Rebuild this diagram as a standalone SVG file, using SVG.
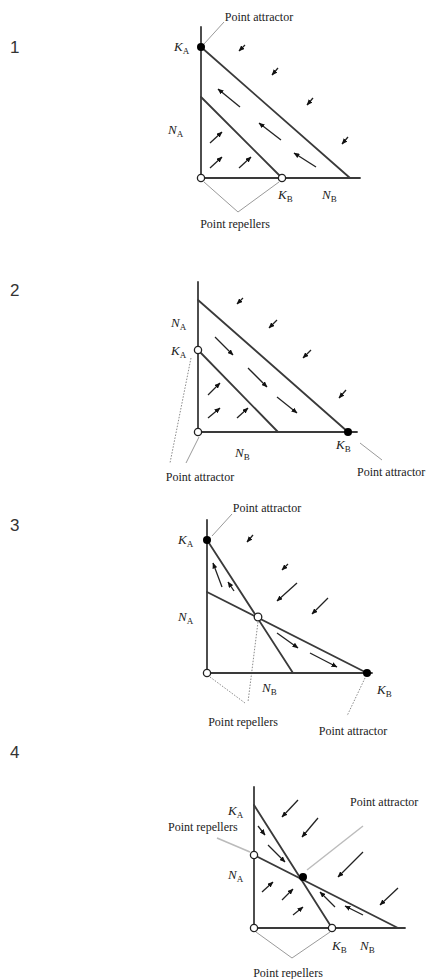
<svg xmlns="http://www.w3.org/2000/svg" width="430" height="979" viewBox="0 0 430 979">
<defs>
<marker id="ah" markerUnits="userSpaceOnUse" markerWidth="6" markerHeight="5" refX="5.5" refY="2.5" orient="auto">
<path d="M0,0 L6,2.5 L0,5 z" fill="#111"/>
</marker>
<style>
.ax{stroke:#3a3a3a;stroke-width:1.8;fill:none;stroke-linecap:round}
.ar{stroke:#222;stroke-width:1.3;fill:none;marker-end:url(#ah)}
.ld{stroke:#9a9a9a;stroke-width:1;fill:none}
.dt{stroke:#8a8a8a;stroke-width:1;fill:none;stroke-dasharray:1.5 1.5}
.oc{fill:#fff;stroke:#222;stroke-width:1.3}
.fc{fill:#000}
.t{font-family:"Liberation Serif",serif;font-size:12px;fill:#222}
.v{font-family:"Liberation Serif",serif;font-size:13px;font-style:italic;fill:#222}
.s{font-style:normal;font-size:9px}
.n{font-family:"Liberation Sans",Arial,sans-serif;font-size:17px;fill:#333}
</style>
</defs>
<rect width="430" height="979" fill="#fff"/>

<g id="numbers">
<text class="n" x="10" y="53">1</text>
<text class="n" x="10" y="296">2</text>
<text class="n" x="10" y="531">3</text>
<text class="n" x="10" y="758">4</text>
</g>

<g id="connectors">
<line class="ld" x1="224" y1="22" x2="204" y2="44"/>
<polyline class="ld" points="204,182 238,212 279,182"/>
<line class="dt" x1="191" y1="358" x2="170" y2="463"/>
<line class="ld" x1="199" y1="437" x2="186" y2="463"/>
<line class="ld" x1="360" y1="443" x2="382" y2="460"/>
<line class="ld" x1="212" y1="536" x2="232" y2="514"/>
<line class="dt" x1="210" y1="677" x2="245" y2="703"/>
<line class="dt" x1="258" y1="622" x2="248" y2="702"/>
<line class="dt" x1="365" y1="678" x2="347" y2="716"/>
<line class="ld" x1="217" y1="838" x2="250" y2="852" style="stroke-width:1.6;stroke:#bbb"/>
<line class="ld" x1="363" y1="826" x2="307" y2="870" style="stroke-width:1.4;stroke:#bbb"/>
<polyline class="ld" points="256,932 292,958 330,932"/>
</g>

<g id="panel1">
<line class="ax" x1="201" y1="27" x2="201" y2="178"/>
<line class="ax" x1="201" y1="178" x2="360" y2="178"/>
<line class="ax" x1="201" y1="47" x2="350" y2="178"/>
<line class="ax" x1="201" y1="97" x2="282" y2="178"/>
<line class="ar" x1="245" y1="45" x2="239" y2="51"/>
<line class="ar" x1="278" y1="68" x2="272" y2="75"/>
<line class="ar" x1="313" y1="98" x2="307" y2="105"/>
<line class="ar" x1="348" y1="137" x2="342" y2="144"/>
<line class="ar" x1="240" y1="107" x2="218" y2="89"/>
<line class="ar" x1="281" y1="140" x2="259" y2="123"/>
<line class="ar" x1="316" y1="167" x2="294" y2="153"/>
<line class="ar" x1="210" y1="143" x2="222" y2="132"/>
<line class="ar" x1="210" y1="168" x2="222" y2="157"/>
<line class="ar" x1="239" y1="168" x2="251" y2="157"/>
<circle class="fc" cx="201" cy="47" r="4"/>
<circle class="oc" cx="201" cy="178" r="3.6"/>
<circle class="oc" cx="282" cy="178" r="3.6"/>
<text class="t" x="259" y="21" text-anchor="middle">Point attractor</text>
<text class="v" x="174" y="51">K<tspan class="s" dy="3">A</tspan></text>
<text class="v" x="168" y="134">N<tspan class="s" dy="3">A</tspan></text>
<text class="v" x="278" y="199">K<tspan class="s" dy="3">B</tspan></text>
<text class="v" x="322" y="199">N<tspan class="s" dy="3">B</tspan></text>
<text class="t" x="235" y="228" text-anchor="middle">Point repellers</text>
</g>

<g id="panel2">
<line class="ax" x1="198" y1="282" x2="198" y2="432"/>
<line class="ax" x1="198" y1="432" x2="357" y2="432"/>
<line class="ax" x1="198" y1="300" x2="348" y2="432"/>
<line class="ax" x1="198" y1="350" x2="278" y2="432"/>
<line class="ar" x1="243" y1="298" x2="237" y2="304"/>
<line class="ar" x1="277" y1="320" x2="269" y2="328"/>
<line class="ar" x1="311" y1="350" x2="303" y2="358"/>
<line class="ar" x1="346" y1="390" x2="339" y2="398"/>
<line class="ar" x1="215" y1="337" x2="233" y2="355"/>
<line class="ar" x1="248" y1="368" x2="267" y2="387"/>
<line class="ar" x1="277" y1="397" x2="297" y2="413"/>
<line class="ar" x1="208" y1="395" x2="220" y2="383"/>
<line class="ar" x1="208" y1="418" x2="220" y2="408"/>
<line class="ar" x1="237" y1="418" x2="248" y2="408"/>
<circle class="oc" cx="198" cy="350" r="3.6"/>
<circle class="oc" cx="198" cy="432" r="3.6"/>
<circle class="fc" cx="348" cy="432" r="4"/>
<text class="v" x="171" y="327">N<tspan class="s" dy="3">A</tspan></text>
<text class="v" x="171" y="355">K<tspan class="s" dy="3">A</tspan></text>
<text class="v" x="336" y="449">K<tspan class="s" dy="3">B</tspan></text>
<text class="v" x="235" y="457">N<tspan class="s" dy="3">B</tspan></text>
<text class="t" x="200" y="481" text-anchor="middle">Point attractor</text>
<text class="t" x="357" y="476">Point attractor</text>
</g>

<g id="panel3">
<line class="ax" x1="207" y1="520" x2="207" y2="673"/>
<line class="ax" x1="207" y1="673" x2="372" y2="673"/>
<line class="ax" x1="207" y1="540" x2="293" y2="673"/>
<line class="ax" x1="207" y1="592" x2="367" y2="673"/>
<line class="ar" x1="253" y1="535" x2="247" y2="542"/>
<line class="ar" x1="288" y1="564" x2="282" y2="570"/>
<line class="ar" x1="297" y1="583" x2="277" y2="601"/>
<line class="ar" x1="328" y1="598" x2="312" y2="614"/>
<line class="ar" x1="222" y1="587" x2="213" y2="563"/>
<line class="ar" x1="234" y1="591" x2="228" y2="582"/>
<line class="ar" x1="277" y1="633" x2="298" y2="648"/>
<line class="ar" x1="310" y1="653" x2="337" y2="667"/>
<circle class="fc" cx="207" cy="540" r="4"/>
<circle class="oc" cx="207" cy="673" r="3.6"/>
<circle class="oc" cx="258" cy="617" r="3.8"/>
<circle class="fc" cx="367" cy="673" r="4"/>
<text class="t" x="267" y="512" text-anchor="middle">Point attractor</text>
<text class="v" x="178" y="544">K<tspan class="s" dy="3">A</tspan></text>
<text class="v" x="178" y="621">N<tspan class="s" dy="3">A</tspan></text>
<text class="v" x="262" y="692">N<tspan class="s" dy="3">B</tspan></text>
<text class="v" x="377" y="694">K<tspan class="s" dy="3">B</tspan></text>
<text class="t" x="243" y="726" text-anchor="middle">Point repellers</text>
<text class="t" x="353" y="735" text-anchor="middle">Point attractor</text>
</g>

<g id="panel4">
<line class="ax" x1="254" y1="787" x2="254" y2="928"/>
<line class="ax" x1="254" y1="928" x2="405" y2="928"/>
<line class="ax" x1="254" y1="805" x2="332" y2="928"/>
<line class="ax" x1="254" y1="855" x2="398" y2="928"/>
<line class="ar" x1="298" y1="800" x2="282" y2="817"/>
<line class="ar" x1="318" y1="818" x2="302" y2="837"/>
<line class="ar" x1="363" y1="852" x2="338" y2="877"/>
<line class="ar" x1="398" y1="888" x2="380" y2="905"/>
<line class="ar" x1="258" y1="826" x2="265" y2="835"/>
<line class="ar" x1="268" y1="845" x2="285" y2="862"/>
<line class="ar" x1="262" y1="892" x2="273" y2="882"/>
<line class="ar" x1="282" y1="900" x2="293" y2="889"/>
<line class="ar" x1="293" y1="915" x2="303" y2="907"/>
<line class="ar" x1="335" y1="907" x2="320" y2="892"/>
<line class="ar" x1="363" y1="915" x2="345" y2="906"/>
<circle class="oc" cx="254" cy="855" r="3.6"/>
<circle class="oc" cx="254" cy="928" r="3.6"/>
<circle class="oc" cx="332" cy="928" r="3.6"/>
<circle class="fc" cx="303" cy="877" r="4"/>
<text class="t" x="350" y="806">Point attractor</text>
<text class="t" x="168" y="831">Point repellers</text>
<text class="v" x="228" y="815">K<tspan class="s" dy="3">A</tspan></text>
<text class="v" x="228" y="879">N<tspan class="s" dy="3">A</tspan></text>
<text class="v" x="332" y="950">K<tspan class="s" dy="3">B</tspan></text>
<text class="v" x="360" y="950">N<tspan class="s" dy="3">B</tspan></text>
<text class="t" x="288" y="977" text-anchor="middle">Point repellers</text>
</g>
</svg>
